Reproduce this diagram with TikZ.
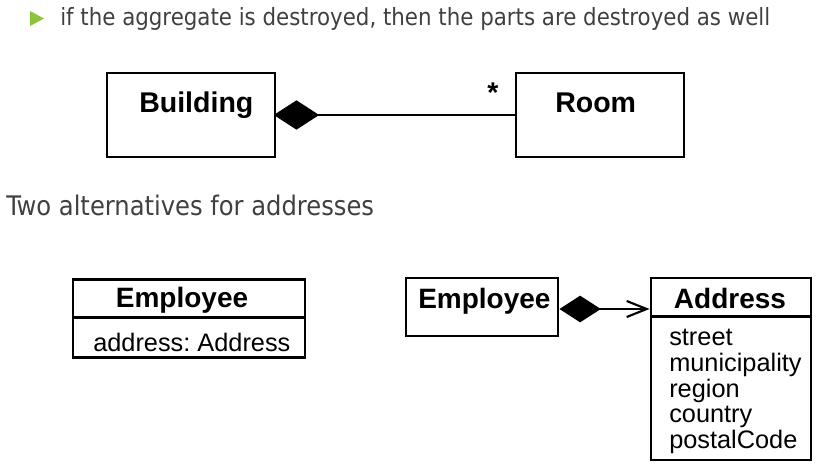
\documentclass[tikz,border=0pt]{standalone}
\usepackage{fontspec}
\usepackage{tikz}
\usetikzlibrary{arrows.meta, positioning}
\setmainfont{Liberation Sans}
\newfontfamily\slidefont{DejaVu Sans Condensed}
\definecolor{SlideText}{HTML}{404040}
\definecolor{BulletGreen}{HTML}{8CC43C}

\begin{document}
\begin{tikzpicture}[
  x=0.75pt, y=-0.75pt,
  slidetxt/.style={font=\slidefont\fontsize{17.8}{21}\selectfont, text=SlideText,
                   inner sep=0pt},
  headtxt/.style={slidetxt, font=\slidefont\fontsize{20.2}{24}\selectfont},
  classbox/.style={rectangle, draw, line width=2.2pt, inner sep=0pt},
  bigname/.style={font=\bfseries\fontsize{21.4}{24}\selectfont, inner sep=0pt},
  classname/.style={font=\bfseries\fontsize{21}{24}\selectfont, inner sep=0pt},
  attr/.style={font=\frenchspacing\fontsize{19}{19.3}\selectfont, align=left, inner sep=0pt},
  comp/.style={line width=1.6pt}
]
\useasboundingbox (0,0) rectangle (834,474);

% Heading lines
\fill[BulletGreen] (30,11) -- (44,18.5) -- (30,26) -- cycle;
\node[slidetxt, anchor=base west] (rule) at (60,26)
  {if the aggregate is destroyed, then the parts are destroyed as well};
\node[headtxt, anchor=base west] (alts) at (6,215) {Two alternatives for addresses};

% Building and Room
\node[classbox, minimum width=126pt, minimum height=63pt] (building) at (191,115) {};
\node[bigname, anchor=base west] (buildingname) at (139,113) {Building};
\node[classbox, minimum width=126pt, minimum height=63pt] (room) at (600,115) {};
\node[bigname, anchor=base west] (roomname) at (555,113) {Room};
\node[bigname, anchor=base] (mult) at (493,103) {*};

% Employee with an address attribute
\node[classbox, minimum width=174pt, minimum height=59pt] (emp) at (189,318.5) {};
\draw[line width=2.2pt] ([yshift=-30pt]emp.north west) -- ([yshift=-30pt]emp.north east);
\node[classname, anchor=base] (empname) at (182,307) {Employee};
\node[attr, anchor=base west] (empattr) at (93,351) {address: Address};

% Employee composed with Address
\node[classbox, minimum width=114pt, minimum height=43.5pt] (emp2) at (482,307) {};
\node[classname, anchor=base west] (emp2name) at (418,308) {Employee};
\node[classbox, minimum width=120pt, minimum height=136.5pt] (addr) at (731,369) {};
\draw[line width=2.2pt] ([yshift=-30pt]addr.north west) -- ([yshift=-30pt]addr.north east);
\node[classname, anchor=base] (addrname) at (730,308) {Address};
\node[attr, anchor=north west] (addrattr) at (669,329)
  {street\\municipality\\region\\country\\postalCode};

% Connectors
\draw[comp, {Diamond[length=34pt, width=22pt]}-] ([xshift=-2pt]building.east) -- (room.west);
\draw[comp, {Diamond[length=31pt, width=20pt]}-{Straight Barb[length=15pt, width=12pt]}]
  ([yshift=-1.5pt]emp2.east) -- ([yshift=-1.5pt]emp2.east -| addr.west);

\end{tikzpicture}
\end{document}
